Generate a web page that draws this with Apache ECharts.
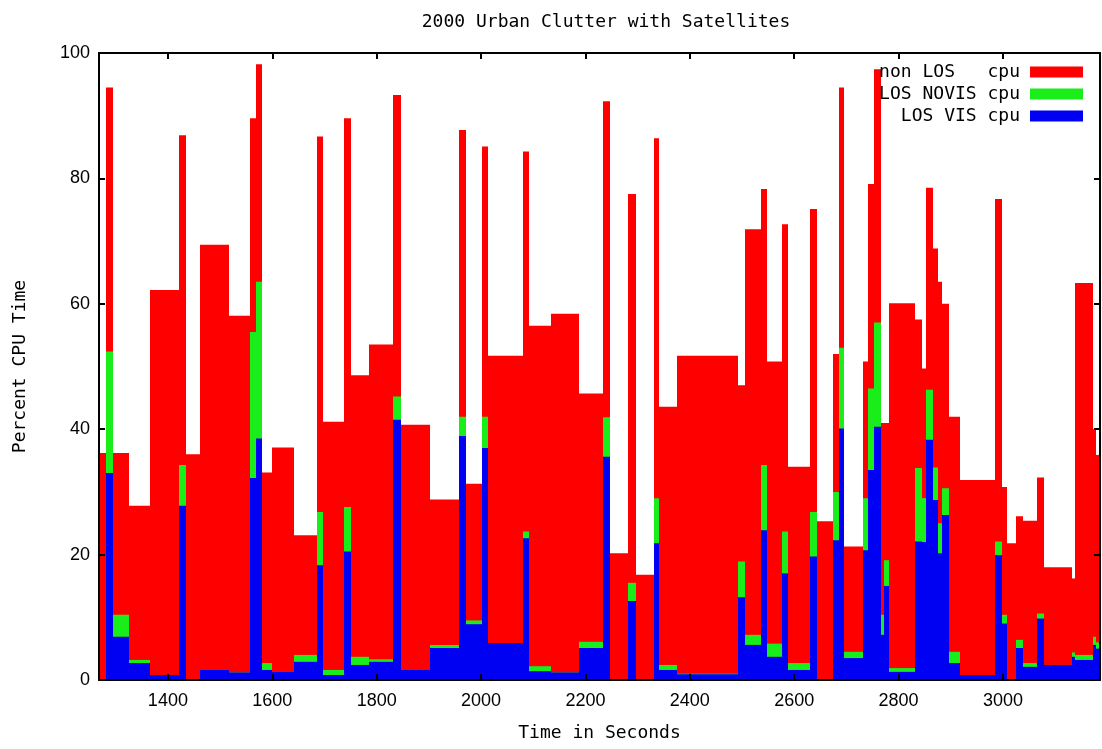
<!DOCTYPE html>
<html>
<head>
<meta charset="utf-8">
<script src="https://cdn.jsdelivr.net/npm/echarts@6/dist/echarts.min.js"></script>
<style>
html,body{margin:0;padding:0;background:#fff;}
#chart{width:1102px;height:749px;}
</style>
</head>
<body>
<div id="chart"></div>
<script>
// Time bin edges (seconds): bar i spans binEdges[i] .. binEdges[i+1]
const binEdges = [1268,1281,1295,1326,1366,1422,1434,1461,1517,1557,1568,1581,1599,1641,1685,1698,1737,1750,1786,1832,1846,1902,1958,1971,2001,2014,2080,2092,2135,2188,2233,2247,2282,2297,2331,2341,2375,2493,2506,2536,2548,2576,2589,2630,2644,2675,2686,2696,2731,2742,2753,2766,2773,2782,2831,2844,2852,2866,2876,2884,2897,2918,2985,2998,3007,3025,3038,3066,3079,3132,3139,3172,3179,3186];
// Percent CPU per bin
const losVisCpu = [0,33,6.9,2.7,0.8,27.8,0,1.6,1.2,32.2,
  38.5,1.6,1.3,2.9,18.3,0.8,20.5,2.4,2.9,41.5,
  1.6,5.1,38.9,8.9,37,5.9,22.6,1.4,1.2,5.1,
  35.6,0,12.6,0,21.8,1.6,0.9,13.2,5.6,23.9,
  3.7,17,1.6,19.7,0,22.3,40.1,3.5,20.7,33.5,
  40.4,7.2,15,1.3,22.1,22,38.3,28.7,20.2,26.3,
  2.7,0.8,19.9,9,0,5.1,2.1,9.8,2.4,3.7,
  3.2,5.6,5];
const losNovisCpu = [0,19.4,3.5,0.5,0,6.5,0,0,0,23.3,
  25,1.1,0,1.1,8.5,0.8,7.1,1.3,0.4,3.7,
  0,0.5,3.1,0.6,5,0,1.1,0.8,0,1,
  6.3,0,2.9,0,7.2,0.8,0.1,5.7,1.6,10.4,
  2.1,6.7,1.1,7.1,0,7.7,12.9,1,8.3,13,
  16.6,3.2,4.1,0.6,11.7,7,8,5.2,4.8,4.3,
  1.8,0,2.2,1.4,0,1.3,0.6,0.8,0,0.7,
  0.8,1.3,1];
const nonLosCpu = [36.2,42.1,25.8,24.6,61.4,52.6,36,67.8,56.9,34.1,
  34.7,30.4,35.8,19.1,59.9,39.6,62,44.9,50.2,48.1,
  39.1,23.2,45.7,21.8,43.1,45.8,60.6,54.3,57.2,39.6,
  50.4,20.2,62,16.8,57.4,41.2,50.7,28.1,64.7,44,
  45,49,31.3,48.3,25.3,22,41.5,16.8,21.8,32.6,
  40.4,30.6,21.9,58.2,23.7,20.7,32.2,34.9,38.5,29.4,
  37.5,31.1,54.6,20.4,21.8,19.7,22.7,21.7,15.6,11.8,
  59.3,33.1,29.9];
const xTicks = [1400,1600,1800,2000,2200,2400,2600,2800,3000];
const seriesNames = ['non LOS   cpu','LOS NOVIS cpu','LOS VIS cpu'];
const colors = ['#ff0000','#1aee1a','#0000f2'];

// cumulative tops (gnuplot-style overlapping boxes)
function boxes(tops){
  return tops.map((v,i)=>[binEdges[i],binEdges[i+1],0,v]);
}
const topVis = losVisCpu.slice();
const topNovis = losVisCpu.map((v,i)=>v+losNovisCpu[i]);
const topAll = topNovis.map((v,i)=>v+nonLosCpu[i]);

function makeRender(color){
  return function(params, api){
    const p0 = api.coord([api.value(0), api.value(3)]);
    const p1 = api.coord([api.value(1), api.value(2)]);
    const x0 = Math.round(p0[0]), x1 = Math.round(p1[0]);
    return {type:'rect', shape:{x:x0,y:p0[1],width:x1-x0,height:p1[1]-p0[1]},
      style:{fill:color}};
  };
}
const tops = [topAll, topNovis, topVis];
const series = seriesNames.map((n,k)=>({
  type:'custom', name:n, data: boxes(tops[k]), renderItem: makeRender(colors[k]),
  itemStyle:{color:colors[k]}, clip:true, encode:{x:[0,1], y:[2,3]}, animation:false
}));

const mono = 'DejaVu Sans Mono';
const sans = 'Liberation Sans';
const plain = v => String(v);
const axisCommon = {
  z:10,
  axisLine:{show:true, onZero:false, lineStyle:{color:'#000', width:2}},
  splitLine:{show:false}
};
const chart = echarts.init(document.getElementById('chart'), null, {renderer:'canvas'});
chart.setOption({
  animation:false,
  color: colors,
  title:{text:'2000 Urban Clutter with Satellites', left:601, top:8, textAlign:'center',
    textStyle:{fontFamily:mono, fontSize:18, fontWeight:'normal', color:'#000'}},
  legend:{orient:'vertical', right:19, top:62, padding:0, align:'right', itemWidth:53, itemHeight:11,
    itemGap:2, icon:'rect', selectedMode:false, data:seriesNames,
    textStyle:{fontFamily:mono, fontSize:18, color:'#000', lineHeight:20, padding:[0,5,0,0]}},
  grid:{left:99, right:2, top:53, bottom:69, show:false},
  xAxis:[
    Object.assign({type:'value', min:1268, max:3186, position:'bottom',
      name:'Time in Seconds', nameLocation:'middle', nameGap:44,
      nameTextStyle:{fontFamily:mono, fontSize:18, color:'#000'},
      axisTick:{inside:true, length:6, lineStyle:{color:'#000', width:2}, customValues:xTicks},
      axisLabel:{fontFamily:sans, fontSize:18, color:'#000', margin:12, customValues:xTicks, formatter:plain}}, axisCommon),
    Object.assign({type:'value', min:1268, max:3186, position:'top',
      axisTick:{inside:true, length:6, lineStyle:{color:'#000', width:2}, customValues:xTicks},
      axisLabel:{show:false, customValues:xTicks}}, axisCommon)
  ],
  yAxis:[
    Object.assign({type:'value', min:0, max:100, interval:20, position:'left',
      name:'Percent CPU Time', nameLocation:'middle', nameGap:70,
      nameTextStyle:{fontFamily:mono, fontSize:18, color:'#000'},
      axisTick:{inside:true, length:6, lineStyle:{color:'#000', width:2}},
      axisLabel:{fontFamily:sans, fontSize:18, color:'#000', margin:9, formatter:plain}}, axisCommon),
    Object.assign({type:'value', min:0, max:100, interval:20, position:'right',
      axisTick:{inside:true, length:6, lineStyle:{color:'#000', width:2}},
      axisLabel:{show:false}}, axisCommon)
  ],
  series: series
});
</script>
</body>
</html>
